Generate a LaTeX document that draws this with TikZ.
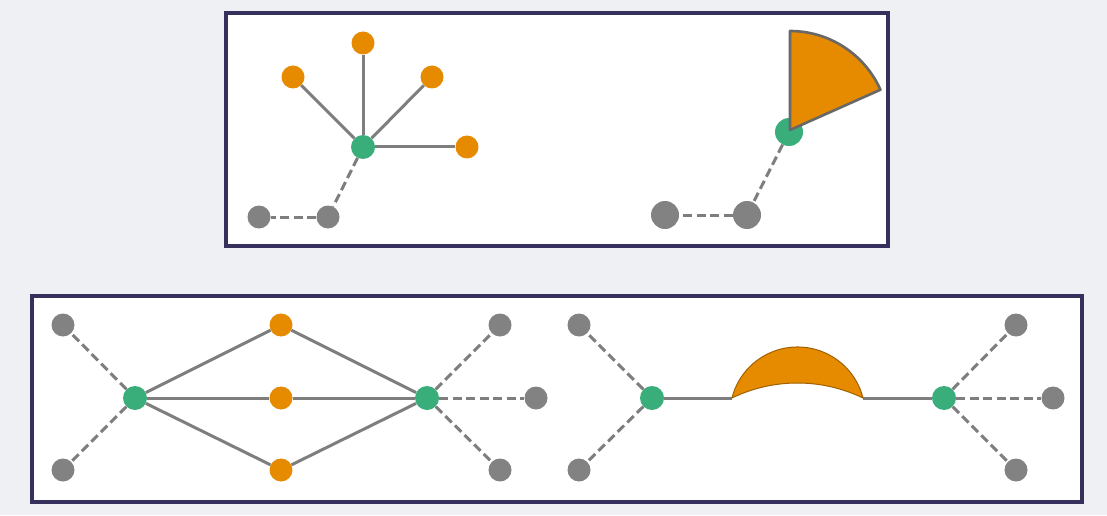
\documentclass[tikz,border=0pt]{standalone}
\definecolor{bgc}{HTML}{EEF0F3}
\definecolor{boxc}{HTML}{35315C}
\definecolor{orc}{HTML}{E68A00}
\definecolor{grc}{HTML}{3AAE7A}
\definecolor{gyc}{HTML}{828282}
\definecolor{lnc}{HTML}{7E7E7E}
\begin{document}
\begin{tikzpicture}[x=1pt,y=1pt,
  panel/.style={draw=boxc,line width=3.2pt,fill=white},
  dot/.style={circle,inner sep=0pt,minimum size=23pt,draw=none},
  onode/.style={dot,fill=orc},
  gnode/.style={dot,fill=grc,minimum size=24pt},
  ynode/.style={dot,fill=gyc},
  bign/.style={minimum size=28pt},
  solidl/.style={draw=lnc,line width=3pt},
  dashl/.style={draw=lnc,line width=3pt,dash pattern=on 9pt off 4.5pt}]
\useasboundingbox (0,0) rectangle (1107,515);
\fill[bgc] (0,0) rectangle (1107,515);
% panels
\draw[panel] (226,269) rectangle (888,502);
\draw[panel] (32,13) rectangle (1082,219);

% ---- top left tree
\node[gnode] (tc) at (363,368) {};
\node[onode] (to1) at (363,472) {};
\node[onode] (to2) at (293,438) {};
\node[onode] (to3) at (432,438) {};
\node[onode] (to4) at (467,368) {};
\node[ynode] (tg1) at (328,298) {};
\node[ynode] (tg2) at (259,298) {};
\draw[solidl] (tc) -- (to1);
\draw[solidl] (tc) -- (to2);
\draw[solidl] (tc) -- (to3);
\draw[solidl] (tc) -- (to4);
\draw[dashl] (tc) -- (tg1);
\draw[dashl] (tg1) -- (tg2);

% ---- top right
\node[gnode,bign] (rc) at (789,383) {};
\node[ynode,bign] (rg1) at (747,300) {};
\node[ynode,bign] (rg2) at (665,300) {};
\coordinate (apex) at (790,385);
\draw[draw=gyc!80!black,line width=2.6pt,fill=orc,line join=round]
  (apex) -- ++(24:99) arc[start angle=24,end angle=90,radius=99] -- cycle;
\draw[dashl] (rc) -- (rg1);
\draw[dashl] (rg1) -- (rg2);

% ---- bottom left
\node[gnode] (bl) at (135,117) {};
\node[gnode] (br) at (427,117) {};
\node[ynode] (bg1) at (63,190) {};
\node[ynode] (bg2) at (63,45) {};
\node[onode] (bo1) at (281,190) {};
\node[onode] (bo2) at (281,117) {};
\node[onode] (bo3) at (281,45) {};
\node[ynode] (bg3) at (500,190) {};
\node[ynode] (bg4) at (500,45) {};
\node[ynode] (bg5) at (536,117) {};
\draw[solidl] (bl) -- (bo1) -- (br);
\draw[solidl] (bl) -- (bo2) -- (br);
\draw[solidl] (bl) -- (bo3) -- (br);
\draw[dashl] (bl) -- (bg1);
\draw[dashl] (bl) -- (bg2);
\draw[dashl] (br) -- (bg3);
\draw[dashl] (br) -- (bg4);
\draw[dashl] (br) -- (bg5);

% ---- bottom right
\node[gnode] (cl) at (652,117) {};
\node[gnode] (cr) at (944,117) {};
\node[ynode] (cg1) at (579,190) {};
\node[ynode] (cg2) at (579,45) {};
\node[ynode] (cg3) at (1016,190) {};
\node[ynode] (cg4) at (1016,45) {};
\node[ynode] (cg5) at (1053,117) {};
\coordinate (lensL) at (732,117);
\coordinate (lensR) at (863,117);
\draw[solidl] (cl) -- (lensL);
\draw[solidl] (lensR) -- (cr);
\draw[draw=orc!70!black,line width=1pt,fill=orc]
  (lensR) arc[start angle=14.2,end angle=165.8,radius=67.6]
  arc[start angle=115.8,end angle=64.2,radius=150.5] -- cycle;
\draw[dashl] (cl) -- (cg1);
\draw[dashl] (cl) -- (cg2);
\draw[dashl] (cr) -- (cg3);
\draw[dashl] (cr) -- (cg4);
\draw[dashl] (cr) -- (cg5);
\end{tikzpicture}
\end{document}
